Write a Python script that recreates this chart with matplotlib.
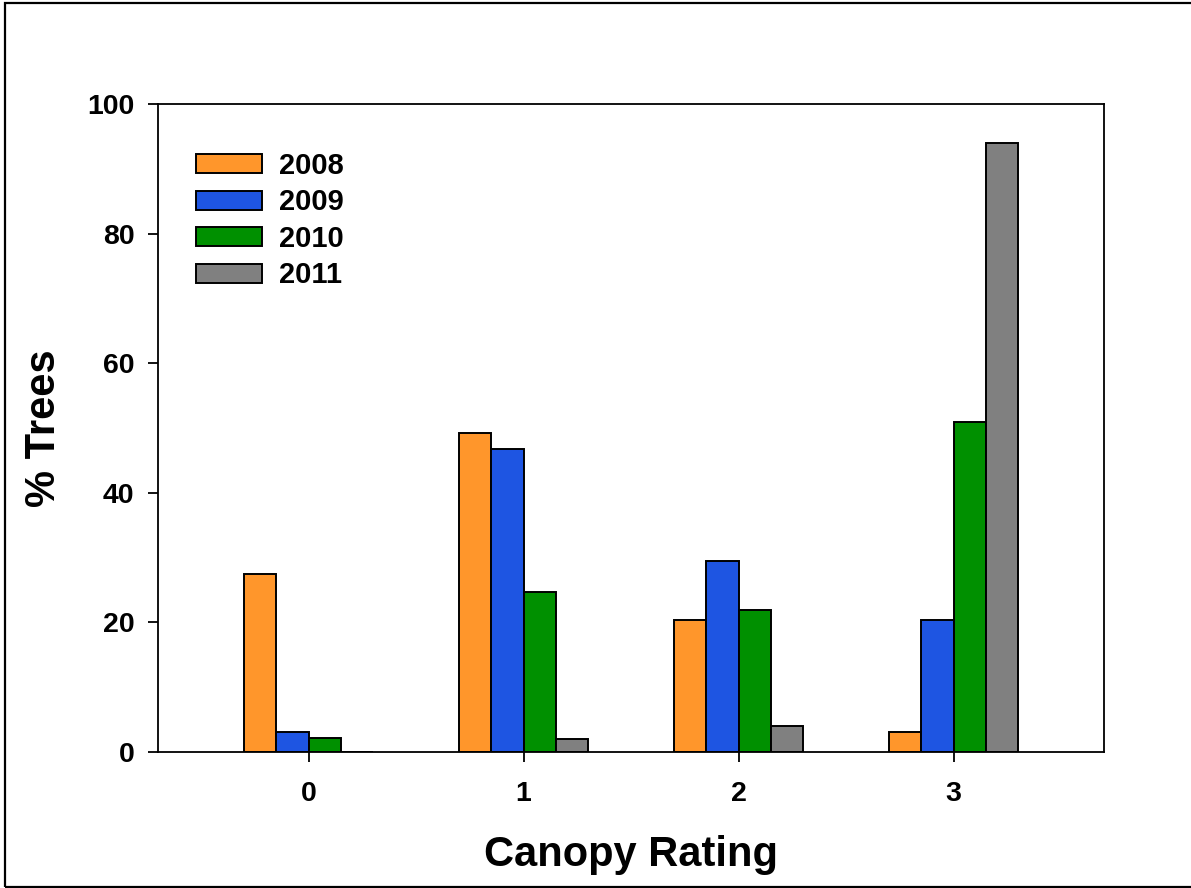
import matplotlib
matplotlib.use('Agg')
import matplotlib.pyplot as plt
from matplotlib.patches import Rectangle
import numpy as np

plt.rcParams['font.family'] = ['Liberation Sans', 'DejaVu Sans']
plt.rcParams['font.weight'] = 'bold'

# Canopy ratings and share of trees per year (%)
ratings = ['0', '1', '2', '3']
years = ['2008', '2009', '2010', '2011']
pct_2008 = [27.4, 49.2, 20.3, 3.1]
pct_2009 = [3.1, 46.8, 29.5, 20.4]
pct_2010 = [2.2, 24.7, 21.9, 50.9]
pct_2011 = [0.0, 2.0, 4.0, 94.0]
series = [pct_2008, pct_2009, pct_2010, pct_2011]
colors = ['#FF962B', '#1E55E2', '#009000', '#808080']

W, H = 1191, 888
fig = plt.figure(figsize=(W / 100, H / 100), dpi=100)
ax = fig.add_axes([158 / W, 1 - 752 / H, (1104 - 158) / W, (752 - 104) / H])

x = np.arange(len(ratings))
bw = 0.151
for i, (vals, col, yr) in enumerate(zip(series, colors, years)):
    offs = (i - 1.5) * bw
    ax.bar(x + offs, vals, width=bw, color=col, edgecolor='black',
           linewidth=1.4, label=yr)

ax.set_xlim(-0.7, 3.7)
ax.set_ylim(0, 100)
ax.set_xticks(x)
ax.set_xticklabels(ratings)
ax.set_yticks([0, 20, 40, 60, 80, 100])
ax.tick_params(axis='both', direction='out', length=7, width=1.3,
               labelsize=20.5)
ax.tick_params(axis='x', pad=14)
ax.tick_params(axis='y', pad=10)
for lbl in ax.get_xticklabels() + ax.get_yticklabels():
    lbl.set_fontweight('bold')
for sp in ax.spines.values():
    sp.set_linewidth(1.3)

ax.set_xlabel('Canopy Rating', fontsize=30, fontweight='bold', labelpad=20)
ax.set_ylabel('% Trees', fontsize=30, fontweight='bold', labelpad=17)

leg = ax.legend(loc='upper left', bbox_to_anchor=(196 / W, 1 - 152 / H),
                bbox_transform=fig.transFigure, frameon=False,
                fontsize=21, handlelength=2.26, handleheight=0.62,
                handletextpad=0.58, labelspacing=0.29, borderpad=0,
                borderaxespad=0)
for t in leg.get_texts():
    t.set_fontweight('bold')

# thin border round the whole figure
fig.patches.append(Rectangle((5 / W, 1 - 887 / H), 1.2, (887 - 3) / H,
                             transform=fig.transFigure, fill=False,
                             edgecolor='black', linewidth=1.6))

fig.savefig('out.png', dpi=100)
